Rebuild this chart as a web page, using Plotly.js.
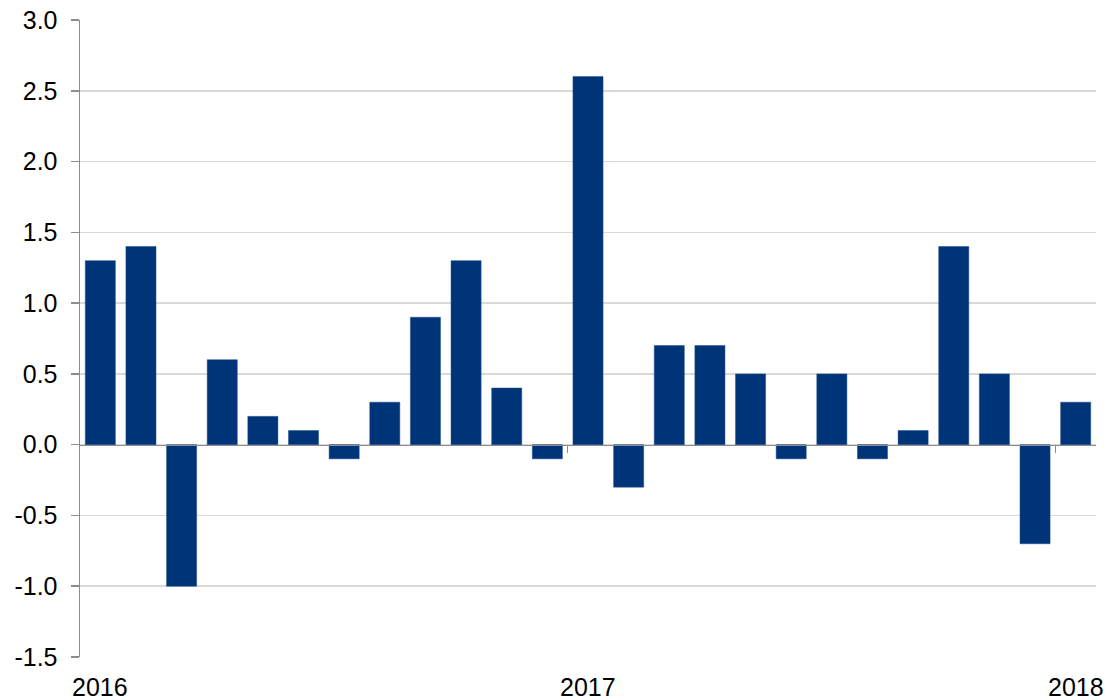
<!DOCTYPE html>
<html>
<head>
<meta charset="utf-8">
<script src="https://cdn.plot.ly/plotly-3.0.1.min.js"></script>
<style>html,body{margin:0;padding:0;background:#fff;}#chart{width:1109px;height:700px;}</style>
</head>
<body>
<div id="chart"></div>
<script>
const months = ["2016-01","2016-02","2016-03","2016-04","2016-05","2016-06","2016-07","2016-08","2016-09","2016-10","2016-11","2016-12",
                "2017-01","2017-02","2017-03","2017-04","2017-05","2017-06","2017-07","2017-08","2017-09","2017-10","2017-11","2017-12",
                "2018-01"];
const values = [1.3, 1.4, -1.0, 0.6, 0.2, 0.1, -0.1, 0.3, 0.9, 1.3, 0.4, -0.1,
                2.6, -0.3, 0.7, 0.7, 0.5, -0.1, 0.5, -0.1, 0.1, 1.4, 0.5, -0.7,
                0.3];
const yearLabels = ["2016","2017","2018"];
const yTickVals = [-1.5, -1.0, -0.5, 0.0, 0.5, 1.0, 1.5, 2.0, 2.5, 3.0];
const yTickText = ["-1.5","-1.0","-0.5","0.0","0.5","1.0","1.5","2.0","2.5","3.0"];

const yMin = -1.5, yMax = 3.0;
const idx = months.map((m, i) => i);
const janIdx = months.map((m, i) => m.endsWith("-01") ? i : null).filter(v => v !== null);
const yearIdx = yearLabels.map(y => months.indexOf(y + "-01"));
const boundaryTicks = janIdx.filter(i => i > 0).map(i => i - 0.5);

const trace = {
  type: "bar",
  x: idx,
  y: values,
  marker: {color: "#003478", line: {color: "#1d4a8a", width: 0.5}},
  hoverinfo: "y"
};

const font = {family: "Liberation Sans, Arial, sans-serif", size: 25, color: "#000"};

const layout = {
  width: 1109, height: 700,
  margin: {l: 80, r: 13, t: 20, b: 43},
  paper_bgcolor: "#fff", plot_bgcolor: "#fff",
  font: font,
  showlegend: false,
  bargap: 0.26,
  xaxis: {
    type: "linear",
    range: [-0.5, months.length - 0.5],
    anchor: "free",
    position: (0 - yMin) / (yMax - yMin),
    showgrid: false, zeroline: false,
    showline: true, linecolor: "#8c8c8c", linewidth: 1.5,
    ticks: "outside", ticklen: 7, tickcolor: "#8c8c8c", tickwidth: 1.5,
    tickmode: "array", tickvals: boundaryTicks,
    showticklabels: false,
    fixedrange: true
  },
  yaxis: {
    range: [yMin, yMax],
    tickmode: "array", tickvals: yTickVals, ticktext: yTickText,
    showgrid: true, gridcolor: "#d9d9d9", gridwidth: 1.5,
    zeroline: false,
    showline: true, linecolor: "#8c8c8c", linewidth: 1.5,
    ticks: "outside", ticklen: 8, tickcolor: "#8c8c8c", tickwidth: 1.5,
    ticklabelstandoff: 8,
    tickfont: font,
    fixedrange: true
  },
  annotations: yearLabels.map((lab, k) => ({
    x: yearIdx[k], xref: "x",
    y: 0, yref: "paper",
    yanchor: "top", xanchor: "center",
    yshift: -14,
    text: lab, showarrow: false,
    font: font
  }))
};

Plotly.newPlot("chart", [trace], layout, {displayModeBar: false, staticPlot: true});
</script>
</body>
</html>
